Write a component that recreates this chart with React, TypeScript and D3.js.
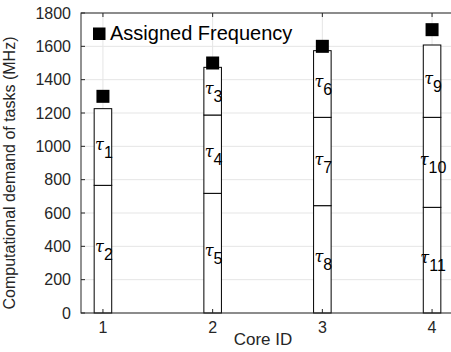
import React from "react";
import * as d3 from "d3";

// core ids on the x axis
const cores = [1, 2, 3, 4];
// task demand per core, stacked bottom -> top (MHz)
const taskIds = [
  [2, 1],
  [5, 4, 3],
  [8, 7, 6],
  [11, 10, 9],
];
const taskDemand = [
  [766, 460],
  [718, 470, 286],
  [644, 530, 400],
  [634, 540, 434],
];
const assignedFreq = [1300, 1500, 1600, 1700];
const yTicks = [0, 200, 400, 600, 800, 1000, 1200, 1400, 1600, 1800];

const font = "'Liberation Sans', Arial, Helvetica, sans-serif";

export default function App() {
  const width = 451;
  const height = 352;
  const left = 81;
  const top = 13;
  const bottom = 313;
  const right = 454;

  const x = d3.scaleLinear().domain([0.8, 4.2]).range([left, right]);
  const y = d3.scaleLinear().domain([0, 1800]).range([bottom, top]);
  const barW = x(1.16) - x(1);
  const sq = 13;
  const axisColor = "#262626";
  const gridColor = "#e5e5e5";

  return (
    <svg
      width={width}
      height={height}
      style={{ position: "absolute", left: 0, top: 0, background: "#fff" }}
      fontFamily={font}
    >
      {/* grid */}
      {yTicks.map((t) => (
        <line key={"gy" + t} x1={left} x2={right} y1={y(t)} y2={y(t)} stroke={gridColor} />
      ))}
      {cores.map((c) => (
        <line key={"gx" + c} x1={x(c)} x2={x(c)} y1={top} y2={bottom} stroke={gridColor} />
      ))}

      {/* stacked bars */}
      {cores.map((c, i) => {
        const stack = d3.cumsum(taskDemand[i]);
        return (
          <g key={"bar" + c}>
            {taskDemand[i].map((v, j) => {
              const y0 = j === 0 ? 0 : stack[j - 1];
              const y1 = stack[j];
              const mid = y((y0 + y1) / 2);
              return (
                <g key={j}>
                  <rect
                    x={x(c) - barW / 2}
                    y={y(y1)}
                    width={barW}
                    height={y(y0) - y(y1)}
                    fill="#fff"
                    stroke="#000"
                    strokeWidth={1}
                  />
                  <text x={x(c) + 1} y={mid + 3} textAnchor="middle" fill="#000">
                    <tspan fontFamily="'DejaVu Serif', serif" fontStyle="italic" fontSize={16}>
                      τ
                    </tspan>
                    <tspan fontSize={16} dy={8}>
                      {taskIds[i][j]}
                    </tspan>
                  </text>
                </g>
              );
            })}
          </g>
        );
      })}

      {/* assigned frequency markers */}
      {cores.map((c, i) => (
        <rect
          key={"m" + c}
          x={x(c) - sq / 2}
          y={y(assignedFreq[i]) - sq / 2}
          width={sq}
          height={sq}
          fill="#000"
        />
      ))}

      {/* axes box */}
      <rect x={left} y={top} width={right - left} height={bottom - top} fill="none" stroke={axisColor} />
      {yTicks.map((t) => (
        <g key={"ty" + t}>
          <line x1={left} x2={left + 4} y1={y(t)} y2={y(t)} stroke={axisColor} />
          <text x={left - 10} y={y(t)} dy="0.36em" textAnchor="end" fontSize={16} fill={axisColor}>
            {t}
          </text>
        </g>
      ))}
      {cores.map((c) => (
        <g key={"tx" + c}>
          <line x1={x(c)} x2={x(c)} y1={bottom} y2={bottom - 4} stroke={axisColor} />
          <line x1={x(c)} x2={x(c)} y1={top} y2={top + 4} stroke={axisColor} />
          <text x={x(c)} y={333} textAnchor="middle" fontSize={16} fill={axisColor}>
            {c}
          </text>
        </g>
      ))}

      {/* axis labels */}
      <text x={263} y={345} textAnchor="middle" fontSize={17} fill={axisColor}>
        Core ID
      </text>
      <text
        transform={`translate(15, 173) rotate(-90)`}
        textAnchor="middle"
        fontSize={16}
        fill={axisColor}
      >
        Computational demand of tasks (MHz)
      </text>

      {/* legend */}
      <rect x={93} y={27.5} width={12.5} height={12.5} fill="#000" />
      <text x={110} y={40} fontSize={20} fill="#000">
        Assigned Frequency
      </text>
    </svg>
  );
}
